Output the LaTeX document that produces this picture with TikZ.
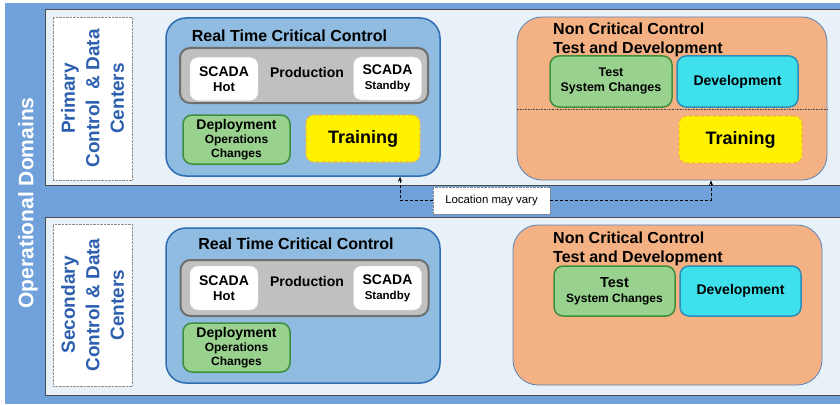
\documentclass[tikz,border=0pt]{standalone}
\usepackage{fontspec}
\setmainfont{Liberation Sans}
\usetikzlibrary{arrows.meta, positioning}

\definecolor{domainblue}{RGB}{112,161,219}
\definecolor{panelfill}{RGB}{232,240,248}
\definecolor{rtfill}{RGB}{143,188,224}
\definecolor{rtdraw}{RGB}{46,109,180}
\definecolor{prodfill}{RGB}{192,192,192}
\definecolor{proddraw}{RGB}{110,110,110}
\definecolor{greenfill}{RGB}{152,210,142}
\definecolor{greendraw}{RGB}{62,142,62}
\definecolor{trainedge}{RGB}{245,176,64}
\definecolor{ncfill}{RGB}{244,177,131}
\definecolor{ncdraw}{RGB}{91,132,181}
\definecolor{cyanfill}{RGB}{62,224,236}
\definecolor{cyandraw}{RGB}{45,141,184}
\definecolor{labelblue}{RGB}{45,95,175}

\newcommand{\fsz}[2]{\fontsize{#1}{#2}\selectfont}

\begin{document}
\begin{tikzpicture}[x=1pt, y=-1pt,
    % Style definitions
    panel/.style={rectangle, draw=black!70, line width=1pt, fill=panelfill, inner sep=0pt},
    sitelabel/.style={rectangle, draw=black!45, densely dotted, fill=white, inner sep=0pt,
                      minimum width=79pt, minimum height=163pt},
    sitetext/.style={rotate=90, align=center, text=labelblue, font=\fsz{19}{24.5}\bfseries},
    realtime/.style={rectangle, rounded corners=20pt, draw=rtdraw, line width=1.5pt, fill=rtfill,
                     minimum width=274pt, inner sep=0pt},
    noncrit/.style={rectangle, rounded corners=25pt, draw=ncdraw, line width=0.8pt, fill=ncfill,
                    minimum width=310pt, inner sep=0pt},
    title/.style={font=\fsz{16}{19}\bfseries, inner sep=0pt},
    production/.style={rectangle, rounded corners=10pt, draw=proddraw, line width=2pt, fill=prodfill,
                       minimum width=248pt, minimum height=55pt, inner sep=0pt},
    scada/.style={rectangle, rounded corners=8pt, draw=gray!25, fill=white, align=center,
                  minimum width=68pt, minimum height=43pt, inner sep=0pt, font=\fsz{14}{15}\bfseries},
    deploy/.style={rectangle, rounded corners=9pt, draw=greendraw, line width=1.5pt, fill=greenfill,
                   align=center, minimum width=107pt, minimum height=49pt, inner sep=0pt,
                   font=\fsz{12}{14}\bfseries},
    testbox/.style={rectangle, rounded corners=9pt, draw=greendraw, line width=1.5pt, fill=greenfill,
                    align=center, minimum width=122pt, minimum height=51pt, inner sep=0pt,
                    font=\fsz{12.5}{15}\bfseries},
    devbox/.style={rectangle, rounded corners=9pt, draw=cyandraw, line width=1.5pt, fill=cyanfill,
                   minimum width=121pt, minimum height=51pt, inner sep=0pt, font=\fsz{14}{16}\bfseries},
    training/.style={rectangle, rounded corners=8pt, draw=trainedge, dashed, line width=1.2pt, fill=yellow,
                     minimum height=47pt, inner sep=0pt, font=\fsz{18}{20}\bfseries},
    varyarrow/.style={-{Stealth[length=5pt, width=4pt]}, densely dashed, line width=0.8pt},
]

\useasboundingbox (0,0) rectangle (840,404);
\fill[white] (0,0) rectangle (840,404);
\fill[domainblue] (5,3) rectangle (840,404);

\node[rotate=90, text=white, font=\fsz{21}{24}\bfseries] (domains) at (28,203) {Operational Domains};

% Primary site
\node[panel, minimum width=800pt, minimum height=175pt] (primary) at (445,97.5) {};
\node[sitelabel] (primlabel) at (92.5,98.5) {};
\node[sitetext] (primtext) at (primlabel) {Primary\\Control~~\& Data\\Centers};

\node[realtime, minimum height=158pt] (rttop) at (303,97) {};
\node[title] (rttoptitle) at (289.5,36) {Real Time Critical Control};
\node[production] (prodtop) at (304,75.5) {};
\node[font=\fsz{14}{16}\bfseries] (prodtoptext) at (307,72) {Production};
\node[scada] (hottop) at (224,79) {SCADA\\{\fsz{13}{15}\bfseries Hot}};
\node[scada] (standbytop) at (387.5,78.5) {SCADA\\{\fsz{11.5}{15}\bfseries Standby}};
\node[deploy] (deploytop) at (236.5,139.5) {{\fsz{14}{15}\bfseries Deployment}\\Operations\\Changes};
\node[training, minimum width=114pt] (traintop) at (363,138.5) {Training};

\node[noncrit, minimum height=163pt] (nctop) at (672,98.5) {};
\node[title, align=left, anchor=north west] (nctoptitle) at (553,23) {Non Critical Control\\Test and Development};
\node[testbox] (testtop) at (611,81.5) {Test\\System Changes};
\node[devbox] (devtop) at (737.5,81.5) {Development};
\draw[densely dotted, black!70, line width=0.6pt] ([yshift=-10.5pt]nctop.west) -- ([yshift=-10.5pt]nctop.east);
\node[training, minimum width=123pt] (trainnc) at (740.5,139.5) {Training};

% Secondary site
\node[panel, minimum width=800pt, minimum height=178pt] (secondary) at (445,306) {};
\node[sitelabel, minimum height=162pt] (seclabel) at (92.5,305) {};
\node[sitetext] (sectext) at (seclabel) {Secondary\\Control \& Data\\Centers};

\node[realtime, minimum height=155pt] (rtbot) at (303,305.5) {};
\node[title] (rtbottitle) at (296,243.5) {Real Time Critical Control};
\node[production, minimum height=56pt] (prodbot) at (304.5,288) {};
\node[font=\fsz{14}{16}\bfseries] (prodbottext) at (307,281) {Production};
\node[scada, minimum height=44pt] (hotbot) at (224,288) {SCADA\\{\fsz{13}{15}\bfseries Hot}};
\node[scada, minimum height=44pt] (standbybot) at (387.5,288) {SCADA\\{\fsz{11.5}{15}\bfseries Standby}};
\node[deploy] (deploybot) at (236.5,347.5) {{\fsz{14}{15}\bfseries Deployment}\\Operations\\Changes};

\node[noncrit, minimum width=309pt, minimum height=160pt] (ncbot) at (667.5,305) {};
\node[title, align=left, anchor=north west] (ncbottitle) at (553,232) {Non Critical Control\\Test and Development};
\node[testbox, minimum width=121pt, minimum height=50pt, font=\fsz{12}{15}\bfseries] (testbot) at (614.5,291) {{\fsz{14.5}{15}\bfseries Test}\\System Changes};
\node[devbox, minimum height=50pt] (devbot) at (740.5,291) {Development};

% Location note
\node[rectangle, draw=black!50, densely dotted, fill=white, minimum width=117pt, minimum height=27pt,
      inner sep=0pt, font=\fsz{11.4}{13}] (locbox) at (491.5,200.5) {Location may vary};
\draw[varyarrow] (locbox.west) -| ([xshift=97pt]rttop.south);
\draw[varyarrow] (locbox.east) -| ([xshift=39pt]nctop.south);

\end{tikzpicture}
\end{document}
